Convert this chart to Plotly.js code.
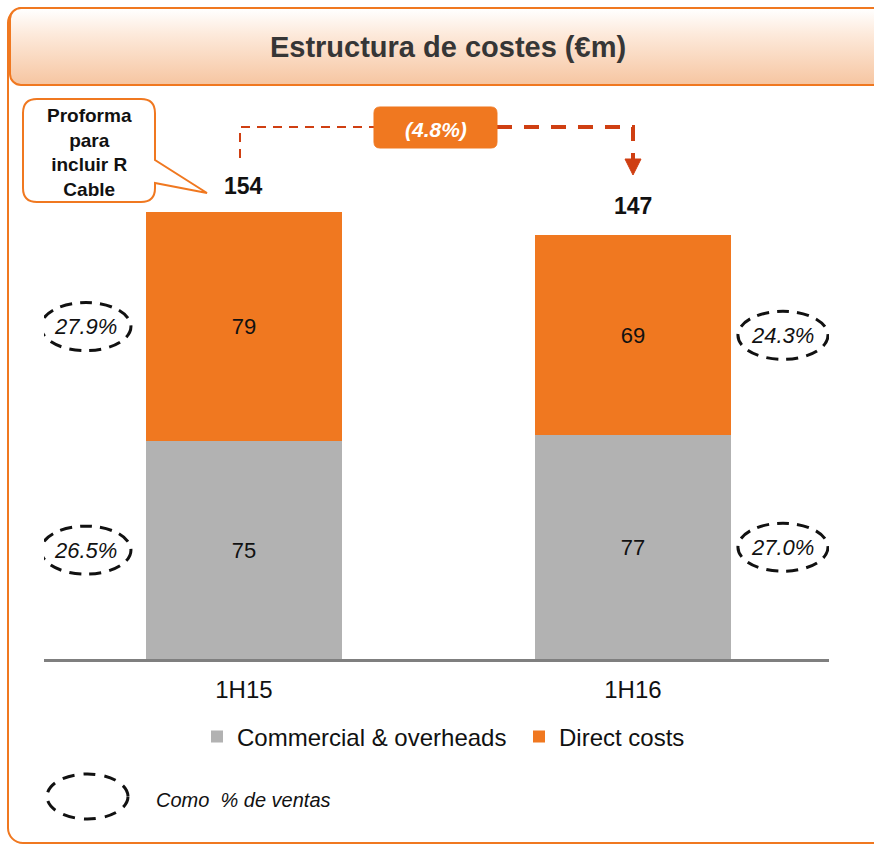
<!DOCTYPE html>
<html>
<head>
<meta charset="utf-8">
<script src="https://cdn.plot.ly/plotly-3.0.1.min.js"></script>
<style>
  html, body { margin:0; padding:0; background:#fff; }
  #wrap { position:relative; width:874px; height:845px; overflow:hidden; background:#fff; }
  #frame { position:absolute; left:7px; top:7px; width:900px; height:837px; border:2px solid #f07820; border-radius:16px; box-sizing:border-box; }
  #header { position:absolute; left:9px; top:7px; width:900px; height:79px; border:2px solid #f07820; border-radius:12px; box-sizing:border-box;
            background:linear-gradient(to bottom, #ffffff 0%, #fde9da 35%, #f6c6a2 100%); }
  #chart { position:absolute; left:0; top:0; width:874px; height:845px; }
</style>
</head>
<body>
<div id="wrap">
<div id="frame"></div>
<div id="header"></div>
<div id="chart"></div>
</div>
<script>
// ---- data ----
const categories = ['1H15', '1H16'];
const commercialOverheads = [75, 77];
const directCosts = [79, 69];
const totals = [154, 147];
const pctCommercial = ['26.5%', '27.0%'];
const pctDirect = ['27.9%', '24.3%'];
const changeLabel = '(4.8%)';
const seriesNames = ['Commercial & overheads', 'Direct costs'];
const titleText = 'Estructura de costes (€m)';
const calloutText = 'Proforma<br>para<br>incluir R<br>Cable';
const legendNote = 'Como  % de ventas';

// ---- geometry helpers (pixel -> paper) ----
const L = 44, R = 829, T = 100, B = 659;
const px = x => (x - L) / (R - L);
const py = y => (B - y) / (B - T);
function path(pts) {
  return pts.map(p => {
    if (p[0] === 'Z') return 'Z';
    const c = p[0]; const rest = p.slice(1);
    const out = [];
    for (let i = 0; i < rest.length; i += 2) out.push(px(rest[i]).toFixed(5) + ',' + py(rest[i+1]).toFixed(5));
    return c + out.join(' ');
  }).join(' ');
}

const ARIAL = '"Liberation Sans", Arial, sans-serif';
const ORANGE = '#f07820';
const GREY = '#b2b2b2';
const ARROW = '#cf3f12';

const traces = [
  {
    type: 'bar', name: seriesNames[0], x: categories, y: commercialOverheads,
    marker: { color: GREY }, width: 0.504,
    text: commercialOverheads.map(String), textposition: 'inside', insidetextanchor: 'middle',
    textfont: { family: ARIAL, size: 22, color: '#111' }, constraintext: 'none', textangle: 0,
    hoverinfo: 'none'
  },
  {
    type: 'bar', name: seriesNames[1], x: categories, y: directCosts,
    marker: { color: ORANGE }, width: 0.504,
    text: directCosts.map(String), textposition: 'inside', insidetextanchor: 'middle',
    textfont: { family: ARIAL, size: 22, color: '#111' }, constraintext: 'none', textangle: 0,
    hoverinfo: 'none'
  }
];

const annotations = [];
const shapes = [];

// totals
categories.forEach((c, i) => {
  annotations.push({ x: c, y: totals[i], xref: 'x', yref: 'y', text: '<b>' + totals[i] + '</b>',
    showarrow: false, xanchor: 'center', yanchor: 'middle', yshift: 26, font: { family: ARIAL, size: 23, color: '#111' } });
});

// percentage ellipses
const pctOffsets = [-158, 150];
categories.forEach((c, i) => {
  const mids = [commercialOverheads[i] / 2, commercialOverheads[i] + directCosts[i] / 2];
  const labels = [pctCommercial[i], pctDirect[i]];
  mids.forEach((m, k) => {
    const off = pctOffsets[i];
    shapes.push({ type: 'circle', xref: 'x', yref: 'y', xsizemode: 'pixel', ysizemode: 'pixel',
      xanchor: i, yanchor: m, x0: off - 45, x1: off + 45, y0: -24, y1: 24,
      line: { color: '#111', width: 3, dash: '12px,8px' } });
    annotations.push({ x: c, y: m, xref: 'x', yref: 'y', xshift: off, text: '<i>' + labels[k] + '</i>',
      showarrow: false, xanchor: 'center', yanchor: 'middle', font: { family: ARIAL, size: 22, color: '#111' } });
  });
});

// callout box
shapes.push({ type: 'path', xref: 'paper', yref: 'paper', fillcolor: '#ffffff',
  line: { color: ORANGE, width: 2 },
  path: path([['M',37,99],['L',141,99],['Q',155,99,155,113],['L',155,160],['L',207,193],['L',155,183],['L',155,188],
    ['Q',155,202,141,202],['L',37,202],['Q',23,202,23,188],['L',23,113],['Q',23,99,37,99],['Z']]) });
annotations.push({ xref: 'paper', yref: 'paper', x: px(89), y: py(152), xanchor: 'center', yanchor: 'middle',
  text: '<b>' + calloutText + '</b>',
  showarrow: false, align: 'center', font: { family: ARIAL, size: 19, color: '#111' } });

// change arrow
shapes.push({ type: 'path', xref: 'paper', yref: 'paper', line: { color: ARROW, width: 2, dash: '9px,7px' },
  path: path([['M',240,158],['L',240,127],['L',376,127]]) });
shapes.push({ type: 'path', xref: 'paper', yref: 'paper', line: { color: ARROW, width: 4, dash: '15px,12px' },
  path: path([['M',497,127],['L',633,127],['L',633,160]]) });
shapes.push({ type: 'path', xref: 'paper', yref: 'paper', fillcolor: ARROW, line: { color: ARROW, width: 1 },
  path: path([['M',625,159],['L',641,159],['L',633,175],['Z']]) });
shapes.push({ type: 'path', xref: 'paper', yref: 'paper', fillcolor: ORANGE, line: { color: ORANGE, width: 1 },
  path: path([['M',380,107],['L',491,107],['Q',497,107,497,113],['L',497,142],['Q',497,148,491,148],
    ['L',380,148],['Q',374,148,374,142],['L',374,113],['Q',374,107,380,107],['Z']]) });
annotations.push({ xref: 'paper', yref: 'paper', x: px(436), y: py(129), xanchor: 'center', yanchor: 'middle',
  text: '<b><i>' + changeLabel + '</i></b>',
  showarrow: false, font: { family: ARIAL, size: 21, color: '#ffffff' } });

// legend note ellipse
shapes.push({ type: 'circle', xref: 'paper', yref: 'paper', x0: px(47), x1: px(128), y0: py(774), y1: py(819),
  line: { color: '#111', width: 3, dash: '12px,9px' } });
annotations.push({ xref: 'paper', yref: 'paper', x: px(154), y: py(800), xanchor: 'left', yanchor: 'middle',
  text: '<i>' + legendNote + '</i>',
  showarrow: false, font: { family: ARIAL, size: 20, color: '#111' } });

const layout = {
  width: 874, height: 845,
  margin: { l: L, r: 874 - R, t: T, b: 845 - B },
  paper_bgcolor: 'rgba(0,0,0,0)', plot_bgcolor: 'rgba(0,0,0,0)',
  barmode: 'stack',
  title: { text: '<b>' + titleText + '</b>', x: 448 / 874, xref: 'container', y: 1 - 47 / 845, yref: 'container',
    xanchor: 'center', yanchor: 'middle', font: { family: ARIAL, size: 29, color: '#363636' } },
  xaxis: { type: 'category', range: [-0.514, 1.504], showline: true, linecolor: '#7f7f7f', linewidth: 3,
    ticks: '', showgrid: false, zeroline: false, ticklabelstandoff: 7,
    tickfont: { family: ARIAL, size: 24, color: '#111' }, fixedrange: true },
  yaxis: { range: [0, (B - T) / 2.903], visible: false, showgrid: false, zeroline: false, fixedrange: true },
  showlegend: true,
  legend: { orientation: 'h', x: px(197), xanchor: 'left', y: py(737), yanchor: 'middle', entrywidth: 277,
    font: { family: ARIAL, size: 24, color: '#111' }, bgcolor: 'rgba(0,0,0,0)', traceorder: 'normal' },
  annotations, shapes,
  bargap: 0
};

Plotly.newPlot('chart', traces, layout, { staticPlot: true, displayModeBar: false });
</script>
</body>
</html>
